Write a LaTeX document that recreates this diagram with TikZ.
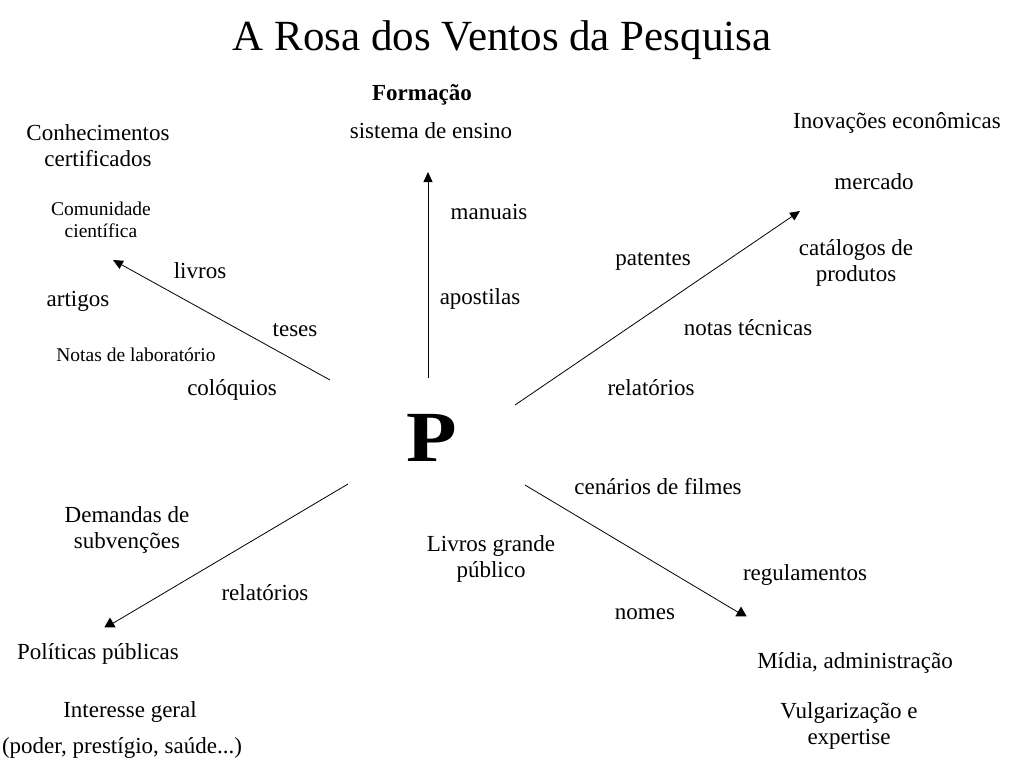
\documentclass[tikz,border=0pt]{standalone}
\usepackage{fontspec}
\setmainfont{Liberation Serif}
\usetikzlibrary{arrows.meta,shapes.geometric}
\begin{document}
\begin{tikzpicture}[x=1pt,y=-1pt,
  lbl/.style={font=\fontsize{23}{26}\selectfont, align=center, inner sep=0pt},
  sml/.style={font=\fontsize{19.5}{22}\selectfont, align=center, inner sep=0pt},
  conn/.style={line width=0.8pt, -{Triangle[length=10pt,width=9pt]}},
  plain/.style={line width=0.8pt},
  tri/.style={regular polygon, regular polygon sides=3, fill=black, inner sep=0pt, minimum size=13pt}]
\useasboundingbox (0,0) rectangle (1009,764);
\fill[white] (0,0) rectangle (1009,764);
\node[font=\fontsize{43}{48}\selectfont, inner sep=0pt] (title) at (502,40) {A Rosa dos Ventos da Pesquisa};
% centre
\node[inner sep=0pt, font=\bfseries\fontsize{72}{80}\selectfont] (P) at (432,438) {\scalebox{1.15}[1]{P}};
% top
\node[lbl, font=\bfseries\fontsize{23}{26}\selectfont] (formacao) at (422,95) {Formação};
\node[lbl] (ensino) at (431,131) {sistema de ensino};
\node[lbl] (manuais) at (489,212) {manuais};
\node[lbl] (apostilas) at (480,299) {apostilas};
% top-left
\node[lbl] (conhec) at (98,146) {Conhecimentos\\certificados};
\node[sml] (comun) at (101,220) {Comunidade\\científica};
\node[lbl] (livros) at (200,271) {livros};
\node[lbl] (artigos) at (78,301) {artigos};
\node[lbl] (teses) at (295,330) {teses};
\node[sml] (notaslab) at (136,355) {Notas de laboratório};
\node[lbl] (coloquios) at (232,390) {colóquios};
% top-right
\node[lbl] (inov) at (897,123) {Inovações econômicas};
\node[lbl] (mercado) at (874,182) {mercado};
\node[lbl] (catalogos) at (856,263) {catálogos de\\produtos};
\node[lbl] (patentes) at (653,261) {patentes};
\node[lbl] (notastec) at (748,328) {notas técnicas};
\node[lbl] (relat1) at (651,388) {relatórios};
% bottom-right
\node[lbl] (cenarios) at (658,487) {cenários de filmes};
\node[lbl] (livrosgp) at (491,559) {Livros grande\\público};
\node[lbl] (regul) at (805,575) {regulamentos};
\node[lbl] (nomes) at (645,614) {nomes};
\node[lbl] (midia) at (855,663) {Mídia, administração};
\node[lbl] (vulg) at (849,726) {Vulgarização e\\expertise};
% bottom-left
\node[lbl] (demandas) at (127,530) {Demandas de\\subvenções};
\node[lbl] (relat2) at (265,593) {relatórios};
\node[lbl] (politicas) at (98,654) {Políticas públicas};
\node[lbl] (interesse) at (130,712) {Interesse geral};
\node[lbl] (poder) at (122,748) {(poder, prestígio, saúde...)};
% connector ends
\coordinate (sN) at (428,378);
\coordinate (eN) at (428,172);
\coordinate (sNW) at (330,380);
\coordinate (eNW) at (113,260);
\coordinate (sNE) at (515,405);
\coordinate (eNE) at (800,211);
\coordinate (sSW) at (348,484);
\coordinate (eSW) at (110,625);
\coordinate (sSE) at (525,485);
\coordinate (eSE) at (741,614);
\draw[conn] (sN) -- (eN);
\draw[conn] (sNW) -- (eNW);
\draw[conn] (sNE) -- (eNE);
\draw[plain] (sSW) -- (eSW);
\draw[plain] (sSE) -- (eSE);
\node[tri] (tSW) at ([yshift=1pt]eSW) {};
\node[tri] (tSE) at ([yshift=1pt]eSE) {};
\end{tikzpicture}
\end{document}
